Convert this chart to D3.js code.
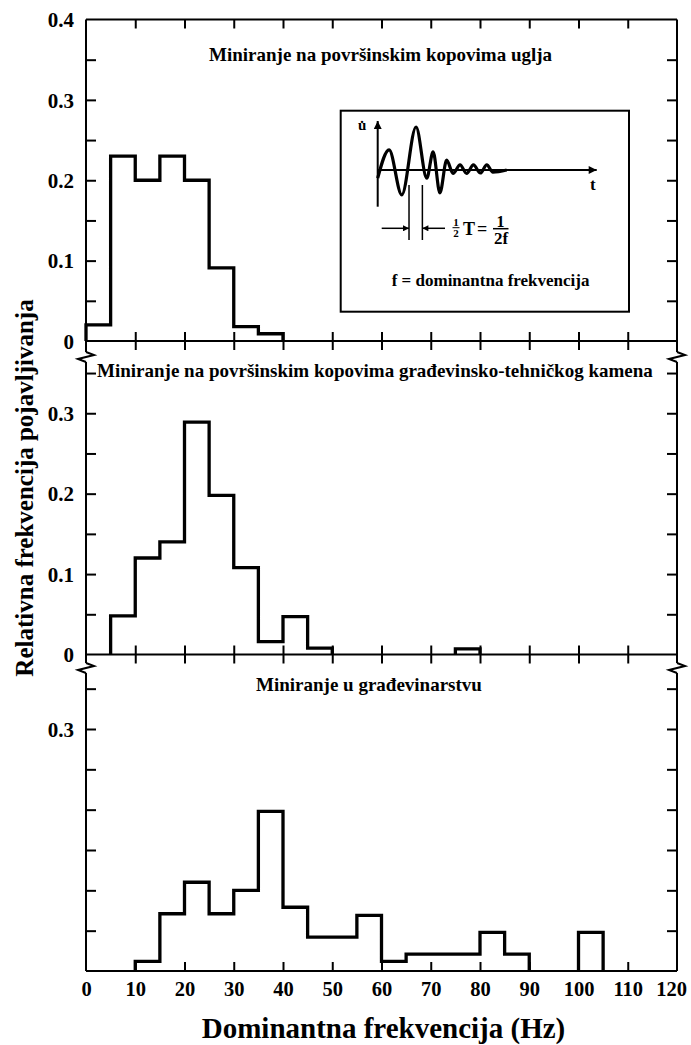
<!DOCTYPE html>
<html><head><meta charset="utf-8">
<script src="https://cdn.jsdelivr.net/npm/d3@7"></script>
<style>
body{margin:0;background:#fff}
svg{display:block}
text{font-family:"Liberation Serif","Times New Roman",serif;font-weight:bold;fill:#000}
</style>
</head><body><svg id="c" width="691" height="1045"></svg>
<script>
// ---------- data ----------
const binWidth = 5; // Hz
// relative frequency per 5 Hz bin, starting at 0 Hz
const coalValues = [0.02, 0.23, 0.20, 0.23, 0.20, 0.091, 0.018, 0.009];
const quarryValues = [0, 0.048, 0.12, 0.14, 0.289, 0.198, 0.108, 0.016, 0.047, 0.008, 0, 0, 0, 0, 0, 0.007];
const constructionValues = [0, 0, 0.012, 0.071, 0.11, 0.071, 0.10, 0.198, 0.079, 0.042, 0.042, 0.069, 0.012, 0.021, 0.021, 0.021, 0.048, 0.021, 0, 0, 0.048];
const panelTitles = [
  "Miniranje na površinskim kopovima uglja",
  "Miniranje na površinskim kopovima građevinsko-tehničkog kamena",
  "Miniranje u građevinarstvu"
];
const xTicks = [0, 10, 20, 30, 40, 50, 60, 70, 80, 90, 100, 110, 120];
const yMinorTicks = [0.05, 0.1, 0.15, 0.2, 0.25, 0.3, 0.35];
const panelYLabelValues = [[0, 0.1, 0.2, 0.3, 0.4], [0, 0.1, 0.2, 0.3], [0.3]];
const xTitle = "Dominantna frekvencija (Hz)";
const yTitle = "Relativna frekvencija pojavljivanja";
// inset schematic waveform (time units, amplitude units)
const waveT = [0, 5.2, 11, 17.5, 22.4, 25.3, 28.4, 31.5, 34.4, 37.6, 40.6, 43.7, 46.9, 49.8, 52.6, 58.9];
const waveU = [-0.19, 0.47, -0.58, 1.0, -0.19, 0.42, -0.53, 0.23, -0.08, 0.12, -0.08, 0.12, -0.07, 0.12, -0.05, 0];

// ---------- layout ----------
const svg = d3.select("#c");
const X0 = 86, X1 = 677;
const x = d3.scaleLinear().domain([0, 120]).range([X0, X1]);

const panels = [
  {values: coalValues, y: d3.scaleLinear().domain([0, 0.4]).range([341, 19.5]), top: 19.5, bottom: 352, title: panelTitles[0], tx: 209, ty: 61, labels: panelYLabelValues[0]},
  {values: quarryValues, y: d3.scaleLinear().domain([0, 0.36]).range([654.5, 365]), top: 362, bottom: 663, title: panelTitles[1], tx: 97, ty: 377, labels: panelYLabelValues[1]},
  {values: constructionValues, y: d3.scaleLinear().domain([0, 0.3]).range([971, 729]), top: 673, bottom: 971, title: panelTitles[2], tx: 256, ty: 691, labels: panelYLabelValues[2]}
];

const fmt = v => v === 0 ? "0" : d3.format(".1f")(v);

function styleAxis(g, size) {
  g.select(".domain").remove();
  g.selectAll(".tick line").attr("stroke", "#000").attr("stroke-width", 2);
  g.selectAll(".tick text").style("font-family", '"Liberation Serif","Times New Roman",serif').style("font-weight", "bold").style("font-size", (size || 21) + "px").attr("fill", "#000");
}

panels.forEach((p, i) => {
  const ticksLeft = (i === 0 ? [0, ...yMinorTicks, 0.4] : [0, ...yMinorTicks]);
  const isLabeled = v => p.labels.some(l => Math.abs(l - v) < 1e-9);
  // left axis
  svg.append("g").attr("transform", `translate(${X0},0)`)
    .call(d3.axisLeft(p.y).tickValues(ticksLeft).tickSizeInner(-10).tickSizeOuter(0).tickPadding(12)
      .tickFormat(v => isLabeled(v) ? fmt(v) : ""))
    .call(styleAxis)
    .call(g => g.selectAll(".tick").filter(v => v === 0 || v === 0.4).select("line").remove())
    .call(g => g.selectAll(".tick text").attr("dy", "0.34em"));
  // right axis
  svg.append("g").attr("transform", `translate(${X1},0)`)
    .call(d3.axisRight(p.y).tickValues(yMinorTicks).tickSizeInner(-10).tickSizeOuter(0).tickFormat(""))
    .call(styleAxis);
  // vertical frame lines
  [X0, X1].forEach(xx => svg.append("line").attr("x1", xx).attr("x2", xx).attr("y1", p.top).attr("y2", p.bottom)
    .attr("stroke", "#000").attr("stroke-width", 2));
  // baseline
  const yb = p.y(0);
  svg.append("line").attr("x1", X0).attr("x2", X1).attr("y1", yb).attr("y2", yb).attr("stroke", "#000").attr("stroke-width", 2);
  const inner = xTicks.slice(1, -1);
  if (i < 2) {
    svg.append("g").attr("transform", `translate(0,${yb})`)
      .call(d3.axisBottom(x).tickValues(inner).tickSizeInner(9).tickSizeOuter(0).tickFormat("")).call(styleAxis);
    svg.append("g").attr("transform", `translate(0,${yb})`)
      .call(d3.axisTop(x).tickValues(inner).tickSizeInner(9).tickSizeOuter(0).tickFormat("")).call(styleAxis);
  } else {
    svg.append("g").attr("transform", `translate(0,${yb})`)
      .call(d3.axisBottom(x).tickValues(xTicks).tickSizeInner(-9).tickSizeOuter(0).tickPadding(10).tickFormat(d3.format("d")))
      .call(g => styleAxis(g, 20.5))
      .call(g => g.selectAll(".tick").filter(v => v === 0 || v === 120).select("line").remove())
      .call(g => g.selectAll(".tick").filter(v => v === 120).select("text").attr("dx", -6));
  }
  if (i === 0) {
    svg.append("line").attr("x1", X0).attr("x2", X1).attr("y1", p.top).attr("y2", p.top).attr("stroke", "#000").attr("stroke-width", 2);
    svg.append("g").attr("transform", `translate(0,${p.top})`)
      .call(d3.axisBottom(x).tickValues(inner).tickSizeInner(9).tickSizeOuter(0).tickFormat("")).call(styleAxis);
  }
  // title
  svg.append("text").attr("x", p.tx).attr("y", p.ty).style("font-size", "19px").text(p.title);

  // histogram step outlines, one path per run of non-zero bins
  const runs = [];
  let cur = null;
  p.values.forEach((v, k) => {
    if (v > 0) { if (!cur) { cur = []; runs.push(cur); } cur.push(k); }
    else cur = null;
  });
  const line = d3.line().x(d => x(d[0])).y(d => p.y(d[1]));
  runs.forEach(r => {
    const pts = [[r[0] * binWidth, 0]];
    r.forEach(k => { pts.push([k * binWidth, p.values[k]]); pts.push([(k + 1) * binWidth, p.values[k]]); });
    pts.push([(r[r.length - 1] + 1) * binWidth, 0]);
    svg.append("path").attr("d", line(pts)).attr("fill", "none").attr("stroke", "#000")
      .attr("stroke-width", 3.3).attr("stroke-linejoin", "miter");
  });
});

// axis breaks (zigzags)
function zig(xx, y0) {
  const pts = [[xx, y0], [xx + 8, y0 + 3], [xx - 8, y0 + 7], [xx, y0 + 10]];
  svg.append("path").attr("d", d3.line()(pts)).attr("fill", "none").attr("stroke", "#000").attr("stroke-width", 2);
}
[352, 663].forEach(yy => { zig(X0, yy); zig(X1, yy); });

// axis titles
svg.append("text").attr("transform", "translate(33,488) rotate(-90)").attr("text-anchor", "middle")
  .style("font-size", "25px").text(yTitle);
svg.append("text").attr("x", 383.5).attr("y", 1038).attr("text-anchor", "middle")
  .style("font-size", "29px").text(xTitle);

// ---------- inset ----------
const defs = svg.append("defs");
defs.append("marker").attr("id", "ah").attr("viewBox", "0 0 10 10").attr("refX", 10).attr("refY", 5)
  .attr("markerWidth", 10).attr("markerHeight", 8).attr("markerUnits", "userSpaceOnUse").attr("orient", "auto")
  .append("path").attr("d", "M0,0L10,5L0,10z").attr("fill", "#000");
defs.append("marker").attr("id", "ahs").attr("viewBox", "0 0 10 10").attr("refX", 10).attr("refY", 5)
  .attr("markerWidth", 9).attr("markerHeight", 6).attr("markerUnits", "userSpaceOnUse").attr("orient", "auto")
  .append("path").attr("d", "M0,0L10,5L0,10z").attr("fill", "#000");

const inset = svg.append("g");
inset.append("rect").attr("x", 340.7).attr("y", 110.7).attr("width", 288.3).attr("height", 201)
  .attr("fill", "#fff").attr("stroke", "#000").attr("stroke-width", 2);
const ix = d3.scaleLinear().domain([0, 100]).range([377.7, 596.7]);
const iy = d3.scaleLinear().domain([-1, 1]).range([213, 127]);
inset.append("line").attr("x1", ix(0)).attr("x2", ix(0)).attr("y1", 206.7).attr("y2", 121)
  .attr("stroke", "#000").attr("stroke-width", 2).attr("marker-end", "url(#ah)");
inset.append("line").attr("x1", ix(0)).attr("x2", ix(100)).attr("y1", iy(0)).attr("y2", iy(0))
  .attr("stroke", "#000").attr("stroke-width", 2).attr("marker-end", "url(#ah)");
const wave = waveT.map((t, k) => [t, waveU[k]]);
inset.append("path").attr("d", d3.line().x(d => ix(d[0])).y(d => iy(d[1])).curve(d3.curveMonotoneX)(wave))
  .attr("fill", "none").attr("stroke", "#000").attr("stroke-width", 3.2);
const halfA = 14.3, halfB = 20.4;
[halfA, halfB].forEach(t => inset.append("line").attr("x1", ix(t)).attr("x2", ix(t)).attr("y1", 185).attr("y2", 240)
  .attr("stroke", "#000").attr("stroke-width", 1.5));
inset.append("line").attr("x1", 381.7).attr("x2", ix(halfA)).attr("y1", 228.3).attr("y2", 228.3)
  .attr("stroke", "#000").attr("stroke-width", 1.5).attr("marker-end", "url(#ahs)");
inset.append("line").attr("x1", 445).attr("x2", ix(halfB)).attr("y1", 228.3).attr("y2", 228.3)
  .attr("stroke", "#000").attr("stroke-width", 1.5).attr("marker-end", "url(#ahs)");
inset.append("text").attr("x", 358).attr("y", 130).style("font-size", "15px").text("u\u0307");
inset.append("text").attr("x", 590).attr("y", 190).style("font-size", "17px").text("t");
inset.append("text").attr("x", 456).attr("y", 226).attr("text-anchor", "middle").style("font-size", "11px").text("1");
inset.append("line").attr("x1", 452.5).attr("x2", 459.5).attr("y1", 227.7).attr("y2", 227.7).attr("stroke", "#000").attr("stroke-width", 1);
inset.append("text").attr("x", 456).attr("y", 237).attr("text-anchor", "middle").style("font-size", "11px").text("2");
inset.append("text").attr("x", 463).attr("y", 235).style("font-size", "18px").text("T");
inset.append("text").attr("x", 477).attr("y", 235).style("font-size", "18px").text("=");
inset.append("text").attr("x", 500.5).attr("y", 226.5).attr("text-anchor", "middle").style("font-size", "16px").text("1");
inset.append("line").attr("x1", 493).attr("x2", 508.5).attr("y1", 228.7).attr("y2", 228.7).attr("stroke", "#000").attr("stroke-width", 1.5);
inset.append("text").attr("x", 501).attr("y", 244).attr("text-anchor", "middle").style("font-size", "17px").text("2f");
inset.append("text").attr("x", 391.7).attr("y", 286).style("font-size", "17px").text("f = dominantna frekvencija");
</script>
</body></html>
